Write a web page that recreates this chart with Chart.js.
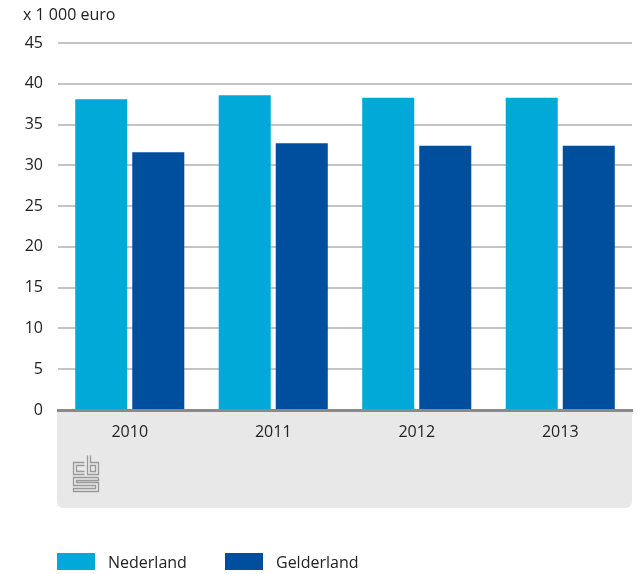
<!DOCTYPE html>
<html>
<head>
<meta charset="utf-8">
<script src="https://cdn.jsdelivr.net/npm/chart.js@4"></script>
<style>
  html, body { margin: 0; padding: 0; background: #fff; }
  #wrap { width: 638px; height: 574px; position: relative; }
</style>
</head>
<body>
<div id="wrap"><canvas id="chart" width="638" height="574"></canvas></div>
<script>
// Gegevens
const jaren = ["2010", "2011", "2012", "2013"];
const nederland = [38.1, 38.6, 38.3, 38.3];
const gelderland = [31.6, 32.7, 32.4, 32.4];
const yTicks = [0, 5, 10, 15, 20, 25, 30, 35, 40, 45];

const lichtBlauw = "#00a9d8";
const donkerBlauw = "#004f9e";
const fontNaam = "'Open Sans', 'Noto Sans', sans-serif";

// Grijs vlak onder de x-as, eenheid, logo en legenda
const extras = {
    id: "extras",
    beforeDraw(chart) {
        const ctx = chart.ctx;
        const area = chart.chartArea;
        const x0 = area.left - 1, x1 = area.right, y0 = area.bottom, y1 = 508, r = 7;
        ctx.save();
        ctx.fillStyle = "#e8e8e8";
        ctx.beginPath();
        ctx.moveTo(x0, y0);
        ctx.lineTo(x1, y0);
        ctx.lineTo(x1, y1 - r);
        ctx.quadraticCurveTo(x1, y1, x1 - r, y1);
        ctx.lineTo(x0 + r, y1);
        ctx.quadraticCurveTo(x0, y1, x0, y1 - r);
        ctx.closePath();
        ctx.fill();
        ctx.restore();
    },
    afterDraw(chart) {
        const ctx = chart.ctx;
        ctx.save();
        // eenheid
        ctx.fillStyle = "#222";
        ctx.font = "16px " + fontNaam;
        ctx.textBaseline = "middle";
        ctx.textAlign = "left";
        ctx.fillText("x 1 000 euro", 23, 15);

        // cbs-logo (eenvoudige lijnen)
        ctx.strokeStyle = "#999";
        ctx.lineWidth = 1.3;
        const lx = 73.5, ly = 455.5;
        ctx.beginPath();
        // c
        ctx.moveTo(lx + 11, ly + 7); ctx.lineTo(lx, ly + 7); ctx.lineTo(lx, ly + 19); ctx.lineTo(lx + 11, ly + 19);
        ctx.moveTo(lx + 11, ly + 10); ctx.lineTo(lx + 3, ly + 10); ctx.lineTo(lx + 3, ly + 16); ctx.lineTo(lx + 11, ly + 16);
        // b
        ctx.moveTo(lx + 14, ly); ctx.lineTo(lx + 14, ly + 19); ctx.lineTo(lx + 25, ly + 19); ctx.lineTo(lx + 25, ly + 7); ctx.lineTo(lx + 17, ly + 7); ctx.lineTo(lx + 17, ly);
        ctx.rect(lx + 17, ly + 10, 5, 6);
        // s
        ctx.moveTo(lx + 25, ly + 22); ctx.lineTo(lx, ly + 22); ctx.lineTo(lx, ly + 30);
        ctx.lineTo(lx + 22, ly + 30); ctx.lineTo(lx + 22, ly + 33); ctx.lineTo(lx, ly + 33); ctx.lineTo(lx, ly + 36);
        ctx.lineTo(lx + 25, ly + 36); ctx.lineTo(lx + 25, ly + 27); ctx.lineTo(lx + 3, ly + 27);
        ctx.lineTo(lx + 3, ly + 25); ctx.lineTo(lx + 25, ly + 25); ctx.lineTo(lx + 25, ly + 22);
        ctx.stroke();

        // legenda
        const items = chart.data.datasets;
        const posities = [57, 225];
        ctx.font = "16px " + fontNaam;
        items.forEach((ds, i) => {
            const x = posities[i];
            ctx.fillStyle = ds.backgroundColor;
            ctx.fillRect(x, 553, 38, 17);
            ctx.fillStyle = "#222";
            ctx.fillText(ds.label, x + 51, 563);
        });
        ctx.restore();
    }
};

new Chart(document.getElementById("chart"), {
    type: "bar",
    data: {
        labels: jaren,
        datasets: [
            { label: "Nederland", data: nederland, backgroundColor: lichtBlauw },
            { label: "Gelderland", data: gelderland, backgroundColor: donkerBlauw }
        ]
    },
    options: {
        responsive: false,
        animation: false,
        devicePixelRatio: 1,
        layout: { padding: { top: 43, right: 6, bottom: 66, left: 0 } },
        datasets: {
            bar: { categoryPercentage: 0.795, barPercentage: 0.912 }
        },
        plugins: {
            legend: { display: false },
            tooltip: { enabled: false }
        },
        scales: {
            x: {
                grid: { display: false, drawTicks: false },
                border: { display: true, color: "#8a8a8a", width: 3 },
                ticks: { color: "#222", font: { family: fontNaam, size: 16 }, padding: 13 },
                afterFit(axis) { axis.height = 98; }
            },
            y: {
                min: 0,
                max: 45,
                afterBuildTicks(axis) { axis.ticks = yTicks.map(v => ({ value: v })); },
                grid: { color: "#c4c4c4", lineWidth: 2, drawTicks: false },
                border: { display: false },
                ticks: { color: "#222", font: { family: fontNaam, size: 16 }, padding: 15 },
                afterFit(axis) { axis.width = 58; }
            }
        }
    },
    plugins: [extras]
});
</script>
</body>
</html>
